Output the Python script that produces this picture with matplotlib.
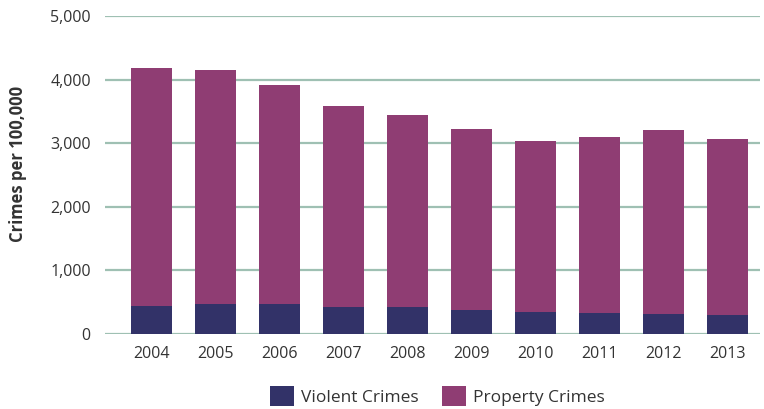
import numpy as np
import matplotlib
matplotlib.use('Agg')
import matplotlib.pyplot as plt

years = ['2004', '2005', '2006', '2007', '2008', '2009', '2010', '2011', '2012', '2013']
total = [4180, 4150, 3910, 3590, 3450, 3230, 3040, 3090, 3200, 3060]
violent = [446, 472, 472, 425, 425, 378, 346, 331, 315, 299]
property_crimes = [t - v for t, v in zip(total, violent)]

violent_color = '#323268'
property_color = '#8f3d73'
grid_color = '#9fc0b3'
text_color = '#333333'

plt.rcParams['font.family'] = ['Open Sans', 'DejaVu Sans']

fig = plt.figure(figsize=(7.64, 4.09), dpi=100)
ax = fig.add_axes([0.137, 0.1834, 0.858, 0.7775])

x = np.arange(len(years))
ax.bar(x, violent, width=0.64, color=violent_color, label='Violent Crimes', zorder=3)
ax.bar(x, property_crimes, width=0.64, bottom=violent, color=property_color,
       label='Property Crimes', zorder=3)

ax.set_xlim(-0.73, 9.51)
ax.set_ylim(0, 5000)
ax.set_yticks(range(0, 5001, 1000))
ax.set_yticklabels([f'{v:,}' for v in range(0, 5001, 1000)])
ax.set_xticks(x)
ax.set_xticklabels(years)
ax.yaxis.grid(True, color=grid_color, linewidth=1.6, zorder=0)
ax.set_axisbelow(True)

for s in ax.spines.values():
    s.set_visible(False)
ax.tick_params(axis='both', length=0, labelsize=11.5, colors=text_color)
ax.tick_params(axis='x', pad=9)
ax.tick_params(axis='y', pad=10)

ax.set_ylabel('Crimes per 100,000', fontsize=12, fontweight='bold', color=text_color)
ax.yaxis.set_label_coords(-0.118, 0.535)

fig.legend(loc='center', bbox_to_anchor=(0.5726, 0.032), ncol=2, frameon=False,
           fontsize=12.5, handlelength=1.38, handleheight=1.38, columnspacing=1.35,
           handletextpad=0.4, borderpad=0, labelcolor=text_color)

fig.savefig('out.png', dpi=100)
